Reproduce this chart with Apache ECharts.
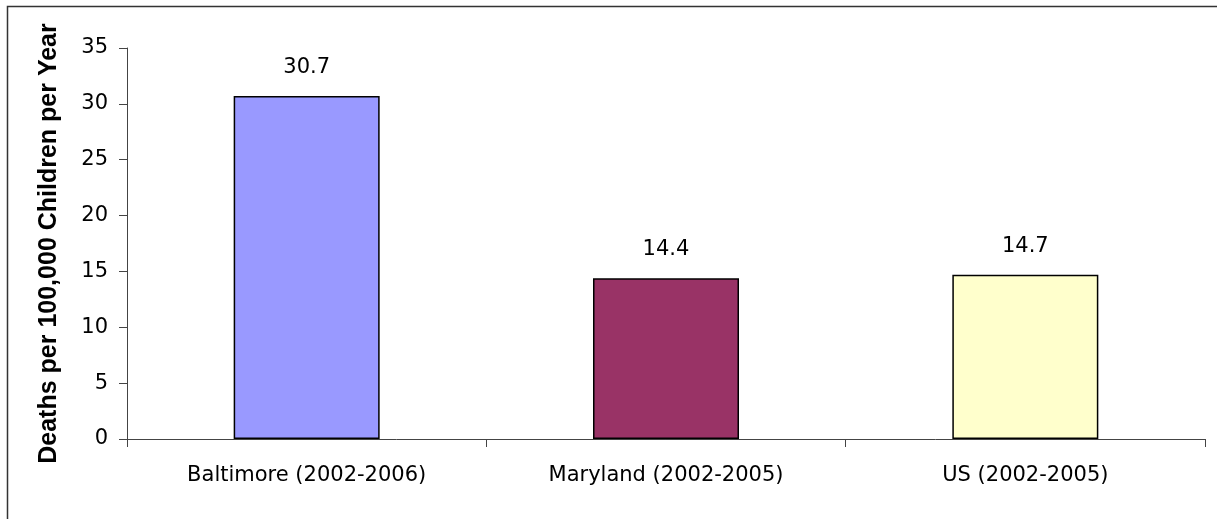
<!DOCTYPE html>
<html>
<head>
<meta charset="utf-8">
<script src="https://cdn.jsdelivr.net/npm/echarts@6/dist/echarts.min.js"></script>
<style>html,body{margin:0;padding:0;background:#fff;}#c{width:1217px;height:519px;}</style>
</head>
<body>
<div id="c"></div>
<script>
const categories = ['Baltimore (2002-2006)', 'Maryland (2002-2005)', 'US (2002-2005)'];
const values = [30.7, 14.4, 14.7];
const barColors = ['#9999FF', '#993366', '#FFFFCC'];
const yTitle = 'Deaths per 100,000 Children per Year';

const chart = echarts.init(document.getElementById('c'), null, {renderer: 'canvas'});
chart.setOption({
  animation: false,
  backgroundColor: '#fff',
  graphic: [{
    type: 'rect', silent: true,
    shape: {x: 7.5, y: 6.5, width: 1300, height: 600},
    style: {fill: 'none', stroke: '#333', lineWidth: 1.5}
  }],
  grid: {left: 127, right: 12, top: 48, bottom: 80, containLabel: false},
  xAxis: {
    type: 'category',
    data: categories,
    axisLine: {lineStyle: {color: '#444', width: 1}},
    axisTick: {show: true, length: 8, inside: false, alignWithLabel: false, lineStyle: {color: '#444'}},
    axisLabel: {margin: 26, fontFamily: 'DejaVu Sans', fontSize: 21, color: '#000'},
    splitLine: {show: false}
  },
  yAxis: {
    type: 'value',
    min: 0, max: 35, interval: 5,
    name: yTitle,
    nameLocation: 'middle',
    nameGap: 65,
    nameTextStyle: {fontFamily: 'Liberation Sans', fontWeight: 'bold', fontSize: 25, color: '#000'},
    axisLine: {show: true, lineStyle: {color: '#444', width: 1}},
    axisTick: {show: true, length: 8, lineStyle: {color: '#444'}},
    axisLabel: {margin: 19, fontFamily: 'DejaVu Sans', fontSize: 21, color: '#000'},
    splitLine: {show: false}
  },
  series: [{
    type: 'bar',
    barWidth: 146,
    data: values.map((v, i) => ({value: v, itemStyle: {color: barColors[i]}})),
    itemStyle: {borderColor: '#000', borderWidth: 1.5},
    label: {show: true, position: 'top', distance: 18, fontFamily: 'DejaVu Sans', fontSize: 21, color: '#000',
      formatter: p => p.value.toFixed(1)}
  }]
});
</script>
</body>
</html>
